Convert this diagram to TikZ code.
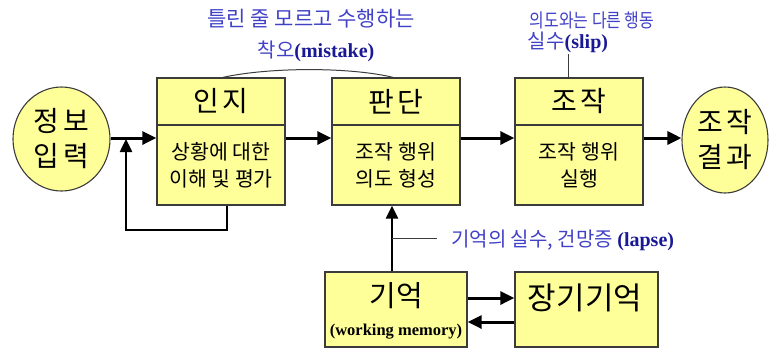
\documentclass[tikz,border=0pt]{standalone}
\usepackage{fontspec}
\setmainfont{Noto Sans CJK KR}
\newfontfamily\tnr{Liberation Serif}
\usetikzlibrary{arrows.meta,shapes.geometric,calc}
\definecolor{boxfill}{RGB}{255,255,153}
\definecolor{boxline}{RGB}{60,60,60}
\definecolor{lblue}{RGB}{65,65,200}
\definecolor{dblue}{RGB}{25,25,150}
\tikzset{
  box/.style={draw=boxline, line width=1.3pt, fill=boxfill, inner sep=0pt},
  oval/.style={ellipse, draw=boxline, line width=1.1pt, fill=boxfill, inner sep=0pt, align=center},
  arr/.style={line width=3pt, -{Triangle[length=14pt,width=13pt]}},
  arrthin/.style={line width=2.5pt, -{Triangle[length=13pt,width=12pt]}},
  loopline/.style={line width=2.5pt},
  lbl/.style={text=lblue, inner sep=1pt, font=\fontsize{20pt}{22pt}\selectfont},
  hdr/.style={font=\fontsize{28pt}{30pt}\selectfont},
  bdy/.style={align=center, font=\fontsize{20.5pt}{27pt}\selectfont},
  circtxt/.style={font=\fontsize{28pt}{35pt}\selectfont},
}
\begin{document}
\begin{tikzpicture}[x=1pt,y=-1pt]
\useasboundingbox (0,0) rectangle (771,349);
% circles
\node[oval, circtxt, minimum width=97pt, minimum height=104pt] (info) at (61.5,139) {정\hspace{4pt}보\\입\hspace{4pt}력};
\node[oval, circtxt, minimum width=86pt, minimum height=106pt] (res) at (725,140) {조\hspace{4pt}작\\결\hspace{4pt}과};
% boxes
\node[box, hdr, minimum width=128pt, minimum height=47pt] (injiT) at (221,101.5) {인\hspace{3pt}지};
\node[box, bdy, minimum width=128pt, minimum height=80pt] (injiB) at (221,165) {상황에 대한\\이해 및 평가};
\node[box, hdr, minimum width=128pt, minimum height=47pt] (pandT) at (396,101.5) {판\hspace{3pt}단};
\node[box, bdy, minimum width=128pt, minimum height=80pt] (pandB) at (396,165) {조작 행위\\의도 형성};
\node[box, hdr, minimum width=128pt, minimum height=47pt] (jojT) at (579,101.5) {조\hspace{3pt}작};
\node[box, bdy, minimum width=128pt, minimum height=80pt] (jojB) at (579,165) {조작 행위\\실행};
\node[box, minimum width=142pt, minimum height=75pt] (mem) at (396,309.5) {};
\node[font=\fontsize{29pt}{30pt}\selectfont, inner sep=0pt] (memT) at (396,296) {기억};
\node[font=\fontsize{16.5pt}{18pt}\selectfont\tnr\bfseries, inner sep=0pt] (memS) at (396,332) {(working memory)};
\node[box, minimum width=143pt, minimum height=75pt] (ltm) at (586.5,309.5) {};
\node[font=\fontsize{31pt}{32pt}\selectfont, inner sep=0pt] (ltmT) at (585,298) {장기기억};
% main arrows
\draw[arr] (info.east |- 0,138) -- (injiB.west |- 0,138);
\draw[arr] (injiB.east |- 0,138) -- (pandB.west |- 0,138);
\draw[arr] (pandB.east |- 0,138) -- (jojB.west |- 0,138);
\draw[arr] (jojB.east |- 0,138) -- (res.west |- 0,138);
% feedback loop
\coordinate (fb) at (126,139);
\draw[loopline] ([xshift=6pt]injiB.south) |- (126,230) -- (126,160);
\draw[arrthin] (126,161) -- (fb);
% memory
\draw[arrthin] ([xshift=-4pt]mem.north) -- ([xshift=-4pt]mem.north |- pandB.south);
\draw[arr] ([yshift=11.5pt]mem.east) -- ([yshift=11.5pt]ltm.west);
\draw[arr] ([yshift=-12.5pt]ltm.west) -- ([yshift=-12.5pt]mem.east);
% lapse
\node[lbl, anchor=west] (lapse) at (450,240) {기억의 실수, 건망증 {\tnr\bfseries\color{dblue}(lapse)}};
\draw[line width=0.8pt, draw=boxline] ([xshift=-4pt]mem.north |- 0,238) -- (437,238);
% mistake
\node[lbl, font=\fontsize{21pt}{22pt}\selectfont] (mist1) at (311,19) {틀린 줄 모르고 수행하는};
\node[lbl] (mist2) at (316,51) {착오{\tnr\bfseries\color{dblue}(mistake)}};
\draw[line width=1pt, draw=boxline] ([xshift=2pt]injiT.north) .. controls (270,67) and (350,67) .. ([xshift=-3pt]pandT.north);
% slip
\node[lbl, font=\fontsize{19pt}{20pt}\selectfont] (slip1) at (592,20) {\scalebox{0.84}[1]{의도와는 다른 행동}};
\node[lbl] (slip2) at (568,42) {실수{\tnr\bfseries\color{dblue}(slip)}};
\draw[line width=1pt, draw=boxline] (jojT.north -| slip2.south) -- (slip2.south);
\end{tikzpicture}
\end{document}
